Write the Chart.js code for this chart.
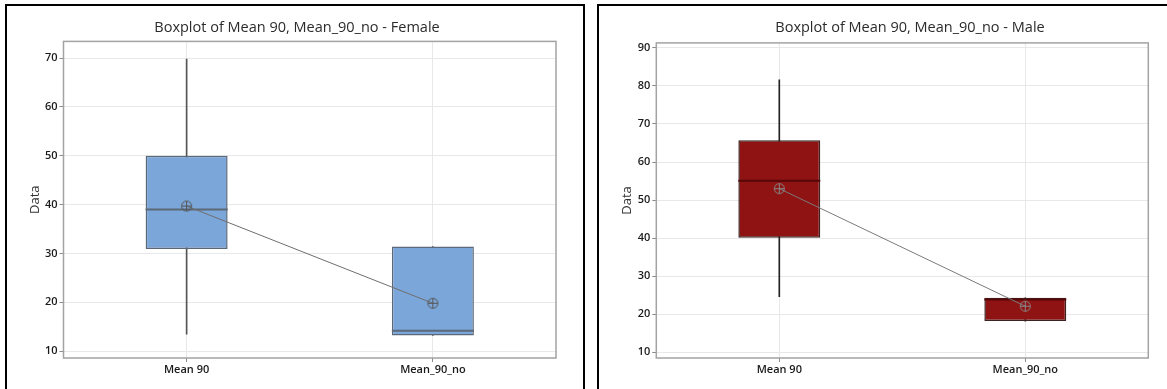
<!DOCTYPE html>
<html>
<head>
<meta charset="utf-8">
<script src="https://cdn.jsdelivr.net/npm/chart.js@4.4.1/dist/chart.umd.min.js"></script>
<style>
  html, body { margin: 0; padding: 0; background: #fff; overflow: hidden; width: 1167px; height: 389px; }
  .frame { position: absolute; border: 2px solid #000; box-sizing: border-box; pointer-events: none; z-index: 2; }
  canvas { position: absolute; z-index: 1; }
</style>
</head>
<body>
<canvas id="female" width="580" height="383" style="left:7px;top:6px"></canvas>
<canvas id="male" width="622" height="383" style="left:599px;top:6px"></canvas>
<div class="frame" style="left:5px;top:4px;width:580px;height:420px"></div>
<div class="frame" style="left:597px;top:4px;width:620px;height:420px"></div>
<script>
// Categories shared by both panels
const categories = ['Mean 90', 'Mean_90_no'];

// Female five-number summaries and means
const femaleLow    = [13.5, 13.2];
const femaleQ1     = [30.9, 13.2];
const femaleMedian = [39.0, 14.2];
const femaleQ3     = [50.0, 31.4];
const femaleHigh   = [69.8, 31.4];
const femaleMean   = [39.7, 19.8];

// Male five-number summaries and means
const maleLow    = [24.6, 18.2];
const maleQ1     = [40.1, 18.2];
const maleMedian = [55.1, 23.9];
const maleQ3     = [65.7, 24.3];
const maleHigh   = [81.6, 24.3];
const maleMean   = [53.0, 22.1];

// Y-axis tick labels
const femaleTicks = [10, 20, 30, 40, 50, 60, 70];
const maleTicks   = [10, 20, 30, 40, 50, 60, 70, 80, 90];

const FONT = "'Open Sans', 'Noto Sans', sans-serif";

// Circle-with-cross symbol used for the mean markers
function meanMarker(color) {
  const c = document.createElement('canvas');
  c.width = 13; c.height = 13;
  const g = c.getContext('2d');
  g.strokeStyle = color;
  g.lineWidth = 1;
  g.beginPath();
  g.arc(6.5, 6.5, 5, 0, Math.PI * 2);
  g.moveTo(1.5, 6.5); g.lineTo(11.5, 6.5);
  g.moveTo(6.5, 1.5); g.lineTo(6.5, 11.5);
  g.stroke();
  return c;
}

// Grey frame round the plotting area
const plotFrame = {
  id: 'plotFrame',
  beforeDatasetsDraw(chart) {
    const { ctx, chartArea: a } = chart;
    ctx.save();
    ctx.strokeStyle = '#a3a3a3';
    ctx.lineWidth = 1.5;
    ctx.strokeRect(a.left, a.top, a.right - a.left, a.bottom - a.top);
    ctx.restore();
  }
};

// Median line across each box, drawn right after the boxes
const medianLines = {
  id: 'medianLines',
  afterDatasetDraw(chart, args) {
    const ds = chart.data.datasets[args.index];
    if (!ds.medianValues) return;
    const { ctx } = chart;
    const y = chart.scales.y;
    ctx.save();
    ctx.strokeStyle = ds.medianColor;
    ctx.lineWidth = 2;
    args.meta.data.forEach((bar, i) => {
      const py = y.getPixelForValue(ds.medianValues[i]);
      ctx.beginPath();
      ctx.moveTo(bar.x - bar.width / 2, py);
      ctx.lineTo(bar.x + bar.width / 2, py);
      ctx.stroke();
    });
    ctx.restore();
  }
};

function boxplot(canvasId, cfg) {
  const n = categories.length;
  const whiskers = Array.from({ length: n }, (_, i) => [cfg.low[i], cfg.high[i]]);
  const boxes = Array.from({ length: n }, (_, i) => [cfg.q1[i], cfg.q3[i]]);
  return new Chart(document.getElementById(canvasId), {
    type: 'bar',
    data: {
      labels: categories,
      datasets: [
        {
          type: 'line',
          data: cfg.mean,
          borderColor: cfg.meanLine,
          borderWidth: 1,
          pointStyle: meanMarker(cfg.markerColor),
          pointRadius: 6,
          fill: false,
          tension: 0,
          order: 0
        },
        {
          data: boxes,
          backgroundColor: cfg.fill,
          borderColor: cfg.border,
          borderWidth: 1.5,
          borderSkipped: false,
          categoryPercentage: 1,
          barPercentage: 0.333,
          grouped: false,
          medianValues: cfg.median,
          medianColor: cfg.medianColor,
          order: 1
        },
        {
          data: whiskers,
          backgroundColor: cfg.whisker,
          borderWidth: 0,
          barThickness: 1,
          grouped: false,
          order: 2
        }
      ]
    },
    options: {
      responsive: false,
      animation: false,
      events: [],
      layout: { padding: 0 },
      plugins: {
        legend: { display: false },
        tooltip: { enabled: false },
        title: {
          display: true,
          text: cfg.title,
          color: '#2b2b2b',
          font: { family: FONT, size: 14.5, weight: 'normal' },
          padding: { top: 13, bottom: cfg.titleGap }
        }
      },
      scales: {
        x: {
          offset: true,
          grid: { offset: false, color: '#e8e8e8', tickColor: '#8a8a8a', tickLength: 4, drawTicks: true },
          border: { display: false },
          ticks: { color: '#1a1a1a', padding: 1, font: { family: FONT, size: 11, weight: 600 } },
          afterFit(scale) { scale.height = 31; }
        },
        y: {
          min: cfg.min,
          max: cfg.max,
          afterBuildTicks(scale) { scale.ticks = cfg.ticks.map(v => ({ value: v })); },
          grid: { color: '#e8e8e8', tickColor: '#8a8a8a', tickLength: 4 },
          border: { display: false },
          ticks: { color: '#1a1a1a', padding: 2, font: { family: FONT, size: 11, weight: 600 } },
          title: { display: true, text: 'Data', color: '#333', font: { family: FONT, size: 13 }, padding: { top: 20, bottom: 4 } },
          afterFit(scale) { scale.width = cfg.axisWidth; }
        },
        // empty right-hand margin so the title stays centred on the whole panel
        margin: {
          type: 'linear',
          position: 'right',
          display: true,
          grid: { display: false, drawTicks: false },
          border: { display: false },
          ticks: { display: false },
          afterFit(scale) { scale.width = cfg.rightMargin; }
        }
      }
    },
    plugins: [plotFrame, medianLines]
  });
}

boxplot('female', {
  title: 'Boxplot of Mean 90, Mean_90_no - Female',
  low: femaleLow, q1: femaleQ1, median: femaleMedian, q3: femaleQ3, high: femaleHigh, mean: femaleMean,
  min: 8.6, max: 73.4, ticks: femaleTicks,
  fill: '#7ba6d9', border: '#5b6877', medianColor: '#5b6877', whisker: '#555',
  meanLine: '#6e6e6e', markerColor: '#555',
  rightMargin: 31, axisWidth: 56.5, titleGap: 5
});

boxplot('male', {
  title: 'Boxplot of Mean 90, Mean_90_no - Male',
  low: maleLow, q1: maleQ1, median: maleMedian, q3: maleQ3, high: maleHigh, mean: maleMean,
  min: 8.5, max: 91.3, ticks: maleTicks,
  fill: '#8f1313', border: '#3d2222', medianColor: '#560707', whisker: '#222',
  meanLine: '#7a7a7a', markerColor: '#888',
  rightMargin: 72.7, axisWidth: 57.3, titleGap: 6.5
});
</script>
</body>
</html>
